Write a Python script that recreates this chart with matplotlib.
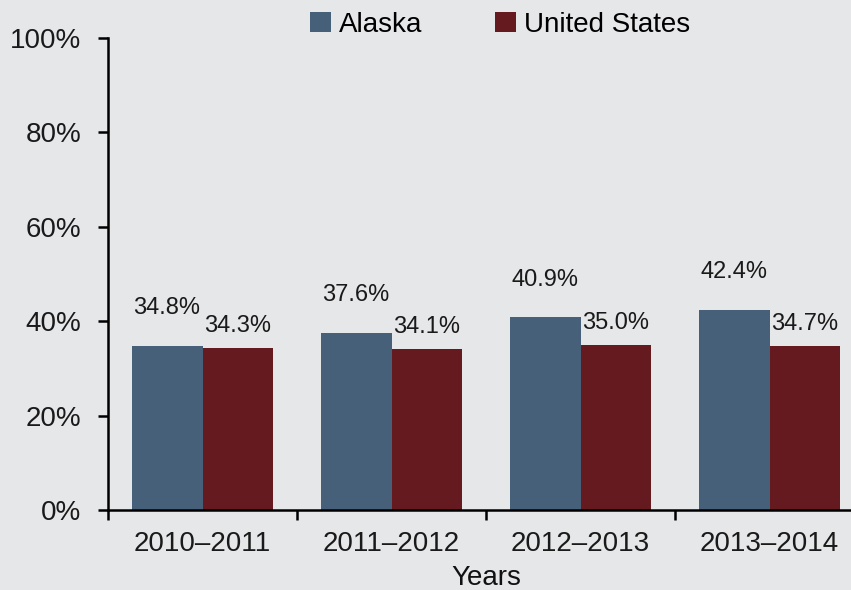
import matplotlib.pyplot as plt
import numpy as np
from matplotlib.ticker import FixedLocator, NullFormatter

plt.rcParams['font.family'] = ['Liberation Sans', 'DejaVu Sans']

years = ["2010–2011", "2011–2012", "2012–2013", "2013–2014"]
alaska = [34.8, 37.6, 40.9, 42.4]
united_states = [34.3, 34.1, 35.0, 34.7]

BG = "#e6e7e9"
C_AK = "#46607a"
C_US = "#641a1e"

fig = plt.figure(figsize=(8.51, 5.90), dpi=100, facecolor=BG)
ax = fig.add_axes([108/851, 80/590, 756/851, 472/590], facecolor=BG)

x = np.arange(len(years))
w = 0.375
b1 = ax.bar(x - w/2, alaska, w, color=C_AK, label="Alaska")
b2 = ax.bar(x + w/2, united_states, w, color=C_US, label="United States")

for rect, v in zip(b1, alaska):
    ax.annotate(f"{v:.1f}%", (rect.get_x() + rect.get_width()/2, v),
                xytext=(0, 19), textcoords="offset points",
                ha="center", va="bottom", fontsize=17, color="#1a1a1a")
for rect, v in zip(b2, united_states):
    ax.annotate(f"{v:.1f}%", (rect.get_x() + rect.get_width()/2, v),
                xytext=(0, 8), textcoords="offset points",
                ha="center", va="bottom", fontsize=17, color="#1a1a1a")

ax.set_xlim(-0.5, len(years) - 0.5)
ax.set_ylim(0, 100)
ax.set_yticks(range(0, 101, 20))
ax.set_yticklabels([f"{t}%" for t in range(0, 101, 20)])
ax.set_xticks(x)
ax.set_xticklabels(years)
ax.tick_params(axis="x", which="major", length=0, pad=15, labelsize=20, labelcolor="#1a1a1a")
ax.xaxis.set_minor_locator(FixedLocator(np.arange(-0.5, len(years), 1.0)))
ax.xaxis.set_minor_formatter(NullFormatter())
ax.tick_params(axis="x", which="minor", length=7, width=1.8, direction="out")
ax.tick_params(axis="y", length=7, width=1.8, direction="out", pad=12,
               labelsize=20, labelcolor="#1a1a1a")

for s in ["top", "right"]:
    ax.spines[s].set_visible(False)
for s in ["left", "bottom"]:
    ax.spines[s].set_linewidth(1.8)
    ax.spines[s].set_color("black")

ax.set_xlabel("Years", fontsize=20, labelpad=6, color="#111111")

leg = fig.legend(handles=[b1, b2], loc="center", bbox_to_anchor=(500/851, 1 - 25/590),
                 ncol=2, frameon=False, fontsize=20, handlelength=0.75, handleheight=0.75,
                 handletextpad=0.3, columnspacing=2.6)

fig.savefig("out.png", dpi=100, facecolor=BG)
